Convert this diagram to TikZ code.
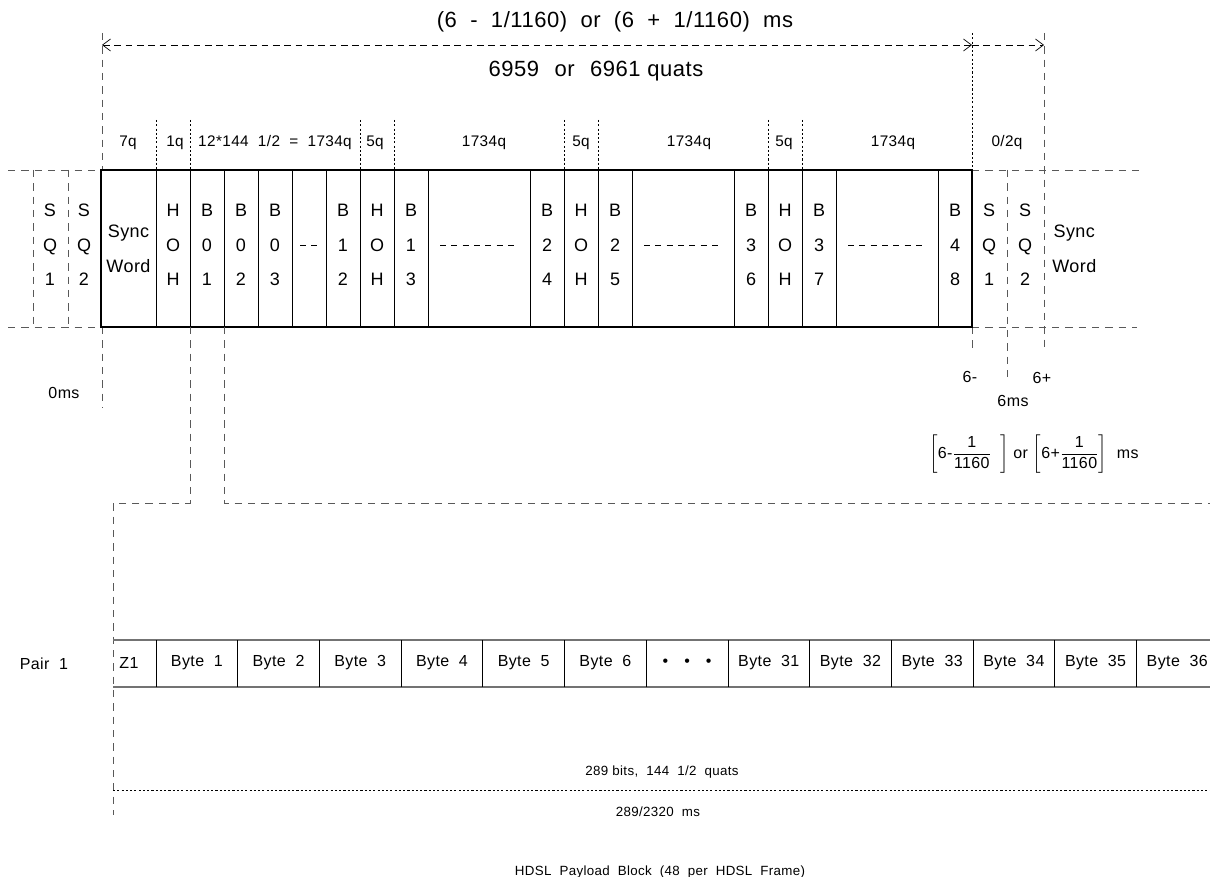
\documentclass[tikz,border=0pt]{standalone}
\usepackage{fontspec}
\setmainfont{Liberation Sans}[LetterSpace=2.5]
\usepackage{amsmath}
\usepackage{tikz}
\usetikzlibrary{arrows.meta,positioning}
\colorlet{guideC}{black!65}
\colorlet{rowC}{black!55}

\begin{document}
\begin{tikzpicture}[x=0.75pt,y=-0.75pt,
    frameline/.style={line width=1.5pt},
    cellline/.style={line width=0.5pt},
    guide/.style={guideC, line width=0.7pt, dash pattern=on 5.5pt off 4.5pt},
    sepline/.style={line width=0.5pt, dash pattern=on 1.6pt off 1.6pt},
    dimline/.style={line width=0.5pt, dash pattern=on 5pt off 3.5pt},
    barb/.tip={Straight Barb[length=6pt,width=9pt]},
    bigtxt/.style={font=\fontsize{16.5}{18}\selectfont, inner sep=0pt},
    lbl/.style={font=\fontsize{11.5}{13}\selectfont, inner sep=0pt},
    celltxt/.style={font=\fontsize{13.5}{26}\selectfont, align=center, inner sep=0pt},
    small/.style={font=\fontsize{12}{14}\selectfont, inner sep=0pt},
    foot/.style={font=\fontsize{10}{12}\selectfont, inner sep=0pt},
    dashcell/.style={line width=0.5pt, dash pattern=on 4.5pt off 4pt}]
  \useasboundingbox (0,0) rectangle (1210,877);

  % frame corners and timing marks
  \coordinate (F1) at (101,170);
  \coordinate (F2) at (972,327);
  \coordinate (T0) at (102,45);
  \coordinate (T6) at (972,45);
  \coordinate (T7) at (1044,45);

  % overall duration
  \draw[dimline, barb-barb] (T0) -- (T6);
  \draw[dimline, -barb] (T6) -- (T7);
  \node[bigtxt] (durtxt) at (615,22) {(6\ \ -\ \ 1/1160)\ \ or\ \ (6\ \ +\ \ 1/1160)\ \ ms};
  \node[bigtxt] (quattxt) at (596,71) {6959\hspace{0.7em}or\hspace{0.7em}6961 quats};

  % guide lines around the frame
  \draw[guide] (102,33) -- (102,170);
  \draw[guide] (102,327) -- (102,408);
  \draw[sepline] (972,33) -- (F2 |- F1);
  \draw[guide] (972,327) -- (972,353);
  \draw[guide] (1044,33) -- (1044,352);
  \draw[guide] (1007,170) -- (1007,380);
  \draw[guide] (33,170) -- (33,327);
  \draw[guide] (68,170) -- (68,327);
  \draw[guide] (8,170) -- (F1);
  \draw[guide] (8,327) -- (F1 |- F2);
  \draw[guide] (F2 |- F1) -- (1143,170);
  \draw[guide] (F2) -- (1137,327);

  % field sizes
  \foreach \x in {156,190,360,394,564,598,768,802}
    \draw[sepline] (\x,120) -- (\x,170);
  \node[lbl] (q7) at (128,143) {7q};
  \node[lbl] (q1) at (175,143) {1q};
  \node[lbl] (qa) at (275,143) {12*144\ \ 1/2\ \ =\ \ 1734q};
  \node[lbl] (qb) at (375,143) {5q};
  \node[lbl] (qc) at (484,143) {1734q};
  \node[lbl] (qd) at (581,143) {5q};
  \node[lbl] (qe) at (689,143) {1734q};
  \node[lbl] (qf) at (784,143) {5q};
  \node[lbl] (qg) at (893,143) {1734q};
  \node[lbl] (qh) at (1007,143) {0/2q};

  % frame and its cells
  \foreach \x in {156,190,224,258,292,326,360,394,428,530,564,598,632,734,768,802,836,938}
    \draw[cellline] (\x,170) -- (\x,327);
  \draw[frameline] (F1) rectangle (F2);
  \node[celltxt] (sync) at (128.5,249) {Sync\\Word};
  \foreach \x/\a/\b/\c in {173/H/O/H, 207/B/0/1, 241/B/0/2, 275/B/0/3, 343/B/1/2,
      377/H/O/H, 411/B/1/3, 547/B/2/4, 581/H/O/H, 615/B/2/5, 751/B/3/6,
      785/H/O/H, 819/B/3/7, 955/B/4/8, 50/S/Q/1, 84/S/Q/2, 989/S/Q/1, 1025/S/Q/2}
    \node[celltxt] (cell\x) at (\x,245) {\a\\\b\\\c};
  \node[celltxt, anchor=west] (syncR) at (1052,249) {Sync\\Word};
  \draw[dashcell] (300,245) -- (318,245);
  \foreach \x in {440,644,848}
    \draw[dashcell] (\x,245) -- ++(76,0);

  % time marks
  \node[small] (t0) at (64,393) {0ms};
  \node[small] (tm) at (970,377) {6-};
  \node[small] (tp) at (1042,378) {6+};
  \node[small] (t6) at (1013,401) {6ms};
  \node[small] (tol) at (1034,454)
    {$\left[\text{6-}\dfrac{\text{1}}{\text{1160}}\;\;\right]$ or $\left[\text{6+}\dfrac{\text{1}}{\text{1160}}\right]$\ \ ms};

  % zoom onto B01
  \draw[guide] (190,327) -- (190,503) -- (113,503) -- (113,815);
  \draw[guide] (224,327) -- (224,503) -- (1215,503);

  % payload block
  \node[small] (pair) at (44,664) {Pair\ \ 1};
  \draw[rowC, line width=0.9pt] (113,640) -- (1215,640);
  \draw[rowC, line width=0.9pt] (113,687) -- (1215,687);
  \foreach \k in {0,...,12}
    \draw[cellline] (156+81.7*\k,640) -- (156+81.7*\k,687);
  \node[small] (z1) at (129,663) {Z1};
  \foreach \t [count=\k from 0] in {Byte\ \ 1, Byte\ \ 2, Byte\ \ 3, Byte\ \ 4, Byte\ \ 5, Byte\ \ 6,
      \textbullet\hspace{1em}\textbullet\hspace{1em}\textbullet,
      Byte\ \ 31, Byte\ \ 32, Byte\ \ 33, Byte\ \ 34, Byte\ \ 35, Byte\ \ 36}
    \node[small] (byte\k) at (196.85+81.7*\k,663) {\t};

  % block length
  \draw[sepline] (113,790) -- (1215,790);
  \node[foot] (bits) at (662,772) {289\ bits,\ \ 144\ \ 1/2\ \ quats};
  \node[foot] (blkms) at (658,812) {289/2320\ \ ms};
  \node[foot, anchor=base] (caption) at (660,875) {HDSL\ \ Payload\ \ Block\ \ (48\ \ per\ \ HDSL\ \ Frame)};
\end{tikzpicture}
\end{document}
